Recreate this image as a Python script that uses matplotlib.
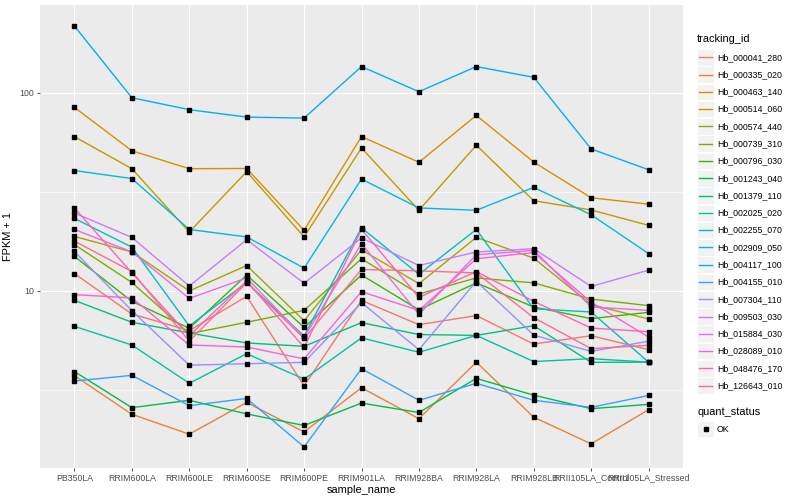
import numpy as np
import matplotlib
matplotlib.use("Agg")
import matplotlib.pyplot as plt
from matplotlib.patches import Rectangle
from matplotlib.ticker import FixedLocator, NullFormatter

plt.rcParams['font.family'] = ['Liberation Sans', 'DejaVu Sans']

samples = ["PB350LA", "RRIM600LA", "RRIM600LE", "RRIM600SE", "RRIM600PE",
           "RRIM901LA", "RRIM928BA", "RRIM928LA", "RRIM928LB",
           "RRII105LA_Control", "RRII105LA_Stressed"]

tracking_ids = ["Hb_000041_280", "Hb_000335_020", "Hb_000463_140", "Hb_000514_060",
                "Hb_000574_440", "Hb_000739_310", "Hb_000796_030", "Hb_001243_040",
                "Hb_001379_110", "Hb_002025_020", "Hb_002255_070", "Hb_002909_050",
                "Hb_004117_100", "Hb_004155_010", "Hb_007304_110", "Hb_009503_030",
                "Hb_015884_030", "Hb_028089_010", "Hb_048476_170", "Hb_126643_010"]

# ggplot default hue palette for 20 levels
colors = ["#F8766D", "#EA8331", "#D89000", "#C09B00", "#A3A500", "#7CAE00",
          "#39B600", "#00BB4E", "#00BF7D", "#00C1A3", "#00BFC4", "#00BAE0",
          "#00B0F6", "#35A2FF", "#9590FF", "#C77CFF", "#E76BF3", "#FA62DB",
          "#FF62BC", "#FF6C91"]

# FPKM + 1 per sample (order of samples above)
hb_000041_280 = [12.2, 7.62, 6.28, 9.36, 3.3, 8.93, 6.73, 7.48, 5.37, 5.92, 5.03]
hb_000335_020 = [3.72, 2.37, 1.88, 2.72, 1.93, 3.23, 2.25, 4.35, 2.29, 1.68, 2.50]
hb_000463_140 = [84.5, 51.0, 41.4, 41.5, 20.2, 60.2, 44.6, 77.0, 44.7, 29.5, 27.4]
hb_000514_060 = [60.1, 41.4, 19.8, 40.0, 18.7, 52.7, 25.5, 54.4, 28.5, 25.6, 21.4]
hb_000574_440 = [18.8, 15.7, 9.97, 13.4, 7.05, 16.1, 10.85, 18.6, 14.6, 8.5, 7.19]
hb_000739_310 = [17.1, 11.0, 6.06, 6.92, 7.95, 14.5, 9.62, 11.6, 10.95, 9.07, 8.4]
hb_000796_030 = [14.9, 8.83, 6.45, 12.0, 6.52, 12.0, 8.0, 10.95, 8.27, 7.22, 7.77]
hb_001243_040 = [3.9, 2.56, 2.79, 2.38, 2.08, 2.70, 2.42, 3.60, 2.96, 2.53, 2.66]
hb_001379_110 = [8.93, 6.92, 6.11, 5.44, 5.23, 6.89, 6.0, 5.94, 6.65, 4.34, 4.35]
hb_002025_020 = [6.6, 5.31, 3.40, 4.80, 3.57, 5.77, 4.88, 5.94, 4.38, 4.53, 4.35]
hb_002255_070 = [23.2, 16.6, 6.63, 11.0, 5.9, 20.8, 12.1, 20.4, 8.1, 7.8, 4.35]
hb_002909_050 = [40.5, 36.9, 20.4, 18.7, 13.0, 36.7, 26.2, 25.5, 33.3, 24.2, 15.4]
hb_004117_100 = [218.0, 94.6, 82.3, 75.5, 74.6, 136.0, 101.5, 136.0, 120.0, 52.1, 40.9]
hb_004155_010 = [3.49, 3.73, 2.62, 2.85, 1.62, 4.03, 2.79, 3.40, 2.79, 2.57, 2.95]
hb_007304_110 = [15.8, 7.92, 4.20, 4.27, 4.34, 8.7, 5.03, 11.15, 5.96, 4.93, 5.55]
hb_009503_030 = [24.7, 18.6, 10.55, 18.1, 10.9, 18.5, 13.4, 15.7, 16.3, 10.5, 12.7]
hb_015884_030 = [20.4, 15.7, 9.14, 11.6, 5.8, 17.3, 7.59, 15.2, 16.0, 8.27, 7.95]
hb_028089_010 = [9.55, 9.19, 5.31, 5.19, 4.52, 9.88, 7.95, 14.5, 15.6, 8.73, 5.83]
hb_048476_170 = [26.2, 12.3, 5.92, 11.2, 5.16, 20.4, 9.25, 12.5, 8.83, 6.47, 6.2]
hb_126643_010 = [17.8, 12.5, 5.55, 10.97, 5.73, 12.8, 12.6, 12.3, 7.3, 5.09, 5.29]

series = [hb_000041_280, hb_000335_020, hb_000463_140, hb_000514_060, hb_000574_440,
          hb_000739_310, hb_000796_030, hb_001243_040, hb_001379_110, hb_002025_020,
          hb_002255_070, hb_002909_050, hb_004117_100, hb_004155_010, hb_007304_110,
          hb_009503_030, hb_015884_030, hb_028089_010, hb_048476_170, hb_126643_010]

fig = plt.figure(figsize=(8, 5), dpi=100)
W, H = 800, 500
ax = fig.add_axes([40 / W, 1 - 468 / H, (683 - 40) / W, (468 - 5) / H])
ax.set_facecolor("#EBEBEB")

x = np.arange(len(samples))
for vals, col in zip(series, colors):
    ax.plot(x, vals, color=col, linewidth=1.0, zorder=3)
for vals in series:
    ax.plot(x, vals, linestyle="none", marker="s", markersize=2.6,
            color="black", zorder=4)

ax.set_yscale("log")
allv = np.log10(np.concatenate([np.array(v) for v in series]))
lo, hi = allv.min(), allv.max()
pad = 0.05 * (hi - lo)
ax.set_ylim(10 ** (lo - pad), 10 ** (hi + pad))
ax.set_xlim(-0.6, len(samples) - 0.4)

ax.yaxis.set_major_locator(FixedLocator([1, 10, 100, 1000]))
ax.yaxis.set_minor_locator(FixedLocator([10 ** 0.5, 10 ** 1.5, 10 ** 2.5]))
ax.yaxis.set_minor_formatter(NullFormatter())
ax.set_yticklabels(["1", "10", "100", "1000"])
ax.set_xticks(x)
ax.set_xticklabels(samples)

ax.grid(True, which="major", color="white", linewidth=0.85)
ax.grid(True, which="minor", axis="y", color="white", linewidth=0.45)
ax.set_axisbelow(True)
for s in ax.spines.values():
    s.set_visible(False)
ax.tick_params(axis="both", which="major", length=2.5, width=0.6, color="#333333",
               labelsize=6.3, labelcolor="#4D4D4D", pad=1.5)
ax.tick_params(axis="y", which="minor", length=0)

ax.set_xlabel("sample_name", fontsize=7.9, labelpad=2)
ax.set_ylabel("FPKM + 1", fontsize=7.9, labelpad=5)

# legend drawn in pixel coordinates
lax = fig.add_axes([0, 0, 1, 1], facecolor="none")
lax.set_xlim(0, W)
lax.set_ylim(H, 0)
lax.axis("off")

lax.text(697, 39, "tracking_id", fontsize=7.9, va="center", ha="left")
y0, dy = 57.3, 17.28
for i, (tid, col) in enumerate(zip(tracking_ids, colors)):
    yc = y0 + i * dy
    lax.add_patch(Rectangle((697, yc - 8.3), 17, 16.6, facecolor="#F2F2F2",
                            edgecolor="white", linewidth=0.6))
    lax.plot([699, 712], [yc, yc], color=col, linewidth=1.0)
    lax.text(717, yc, tid, fontsize=6.3, va="center", ha="left")

lax.text(697, 412, "quant_status", fontsize=7.9, va="center", ha="left")
lax.add_patch(Rectangle((697, 429 - 8.3), 17, 16.6, facecolor="#F2F2F2",
                        edgecolor="white", linewidth=0.6))
lax.plot([705.5], [429], marker="s", markersize=2.6, color="black")
lax.text(717, 429, "OK", fontsize=6.3, va="center", ha="left")

fig.savefig("out.png", dpi=100)
